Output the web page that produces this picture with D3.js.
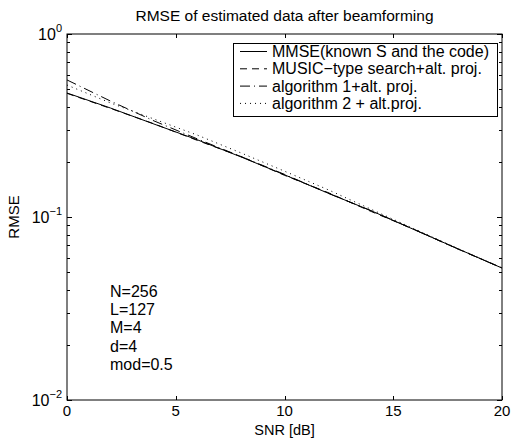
<!DOCTYPE html>
<html><head><meta charset="utf-8">
<script src="https://cdn.jsdelivr.net/npm/d3@7"></script>
<style>body{margin:0;background:#fff}svg{display:block}text{font-family:"Liberation Sans",Arial,sans-serif;fill:#000}</style>
</head><body>
<script>
const snr = [0, 2, 4, 6, 8, 10, 12, 14, 16, 18, 20];
const mmse  = [0.476, 0.394, 0.322, 0.264, 0.213, 0.170, 0.135, 0.108, 0.0849, 0.0668, 0.0526];
const music = [0.474, 0.392, 0.323, 0.262, 0.214, 0.169, 0.136, 0.107, 0.0852, 0.0666, 0.0527];
const alg1  = [0.561, 0.430, 0.335, 0.267, 0.214, 0.171, 0.135, 0.108, 0.0850, 0.0667, 0.0526];
const alg2  = [0.526, 0.420, 0.343, 0.280, 0.224, 0.178, 0.141, 0.110, 0.0858, 0.0670, 0.0527];
const seriesNames = ["MMSE(known S and the code)", "MUSIC\u2212type search+alt. proj.", "algorithm 1+alt. proj.", "algorithm 2 + alt.proj."];
const xTicks = [0, 5, 10, 15, 20];
const yTickExps = [0, -1, -2];
const notes = ["N=256", "L=127", "M=4", "d=4", "mod=0.5"];

const W = 517, H = 438;
const m = {left: 67, right: 502, top: 34, bottom: 400};
const FS = 16;
const svg = d3.select("body").append("svg").attr("width", W).attr("height", H);

const x = d3.scaleLinear().domain([0, 20]).range([m.left, m.right]);
const y = d3.scaleLog().domain([0.01, 1]).range([m.bottom, m.top]);

svg.append("rect").attr("x", m.left).attr("y", m.top).attr("width", m.right - m.left).attr("height", m.bottom - m.top)
  .attr("fill", "none").attr("stroke", "#000").attr("stroke-width", 1);

const g = svg.append("g");
xTicks.forEach(t => {
  const px = Math.round(x(t)) + 0.5;
  g.append("line").attr("x1", px).attr("x2", px).attr("y1", m.bottom).attr("y2", m.bottom - 4).attr("stroke", "#000");
  g.append("line").attr("x1", px).attr("x2", px).attr("y1", m.top).attr("y2", m.top + 4).attr("stroke", "#000");
  g.append("text").attr("x", x(t)).attr("y", m.bottom + 16).attr("text-anchor", "middle").attr("font-size", 15).text(t);
});
const yt = [];
for (let e = -2; e < 0; e++) for (let k = 1; k <= 9; k++) yt.push(k * Math.pow(10, e));
yt.push(1);
yt.forEach(v => {
  const py = Math.round(y(v)) + 0.5;
  const major = Math.abs(Math.log10(v) - Math.round(Math.log10(v))) < 1e-9;
  const len = major ? 5 : 3;
  g.append("line").attr("x1", m.left).attr("x2", m.left + len).attr("y1", py).attr("y2", py).attr("stroke", "#000");
  g.append("line").attr("x1", m.right).attr("x2", m.right - len).attr("y1", py).attr("y2", py).attr("stroke", "#000");
});
yTickExps.forEach(e => {
  const t = g.append("text").attr("x", m.left - 5).attr("y", y(Math.pow(10, e)) + 6).attr("text-anchor", "end").attr("font-size", FS);
  t.append("tspan").text("10");
  t.append("tspan").attr("font-size", 11).attr("dy", -8).text(e === 0 ? "0" : "\u2212" + (-e));
});

svg.append("text").attr("x", (m.left + m.right) / 2).attr("y", 21).attr("text-anchor", "middle").attr("font-size", 15.5)
  .text("RMSE of estimated data after beamforming");
svg.append("text").attr("x", (m.left + m.right) / 2).attr("y", 435).attr("text-anchor", "middle").attr("font-size", 14.5).text("SNR [dB]");
svg.append("text").attr("transform", `translate(19,${(m.top + m.bottom) / 2}) rotate(-90)`).attr("text-anchor", "middle").attr("font-size", 15).text("RMSE");

const dashes = [null, "7,5", "10,4,1,4", "1,4"];
const data = [mmse, music, alg1, alg2];
const line = d3.line().x((d, i) => x(snr[i])).y(d => y(d));
data.forEach((s, i) => {
  svg.append("path").datum(s).attr("d", line).attr("fill", "none").attr("stroke", "#000").attr("stroke-width", 1)
    .attr("stroke-dasharray", dashes[i]);
});

notes.forEach((t, i) => {
  svg.append("text").attr("x", 110).attr("y", 297 + i * 18.2).attr("font-size", FS).text(t);
});

const lg = svg.append("g");
lg.append("rect").attr("x", 233.5).attr("y", 43.5).attr("width", 264).attr("height", 73).attr("fill", "#fff").attr("stroke", "#000");
seriesNames.forEach((n, i) => {
  const yy = 51.5 + i * 17.3;
  lg.append("line").attr("x1", 240).attr("x2", 267).attr("y1", yy).attr("y2", yy).attr("stroke", "#000").attr("stroke-dasharray", dashes[i]);
  lg.append("text").attr("x", 272).attr("y", yy + 5.5).attr("font-size", FS).text(n);
});
</script>
</body></html>
